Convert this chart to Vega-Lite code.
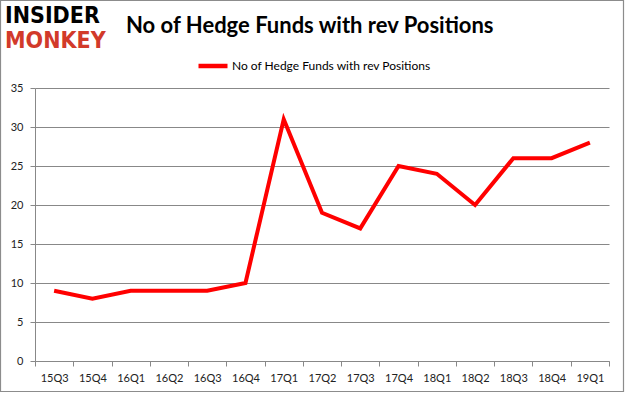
{
  "$schema": "https://vega.github.io/schema/vega-lite/v6.json",
  "width": 574,
  "height": 273,
  "autosize": {"type": "none"},
  "padding": {"left": 35, "top": 88, "right": 16, "bottom": 34},
  "background": "white",
  "title": {
    "text": "No of Hedge Funds with rev Positions",
    "font": "Lato",
    "fontSize": 22,
    "fontWeight": "bold",
    "color": "#000000",
    "anchor": "start",
    "frame": "group",
    "dx": 91,
    "offset": -55,
    "baseline": "alphabetic"
  },
  "config": {
    "view": {"stroke": null},
    "font": "Lato",
    "axis": {
      "labelFont": "Lato",
      "labelFontSize": 11,
      "labelColor": "#222222",
      "domainColor": "#888888",
      "tickColor": "#888888",
      "gridColor": "#888888",
      "titleFontSize": 0
    }
  },
  "layer": [
    {
      "data": {"values": [{}]},
      "mark": {"type": "rect", "fill": null, "stroke": "#8c8c8c", "strokeWidth": 1.2},
      "encoding": {
        "x": {"value": -34.5},
        "x2": {"value": 588.5},
        "y": {"value": -87.5},
        "y2": {"value": 303.5}
      }
    },
    {
      "data": {"values": [{}]},
      "mark": {"type": "text", "align": "left", "baseline": "top", "font": "DejaVu Sans Condensed", "fontWeight": "bold", "fontSize": 23, "fill": "#000000", "text": "INSIDER"},
      "encoding": {"x": {"value": -30}, "y": {"value": -83.5}}
    },
    {
      "data": {"values": [{}]},
      "mark": {"type": "text", "align": "left", "baseline": "top", "font": "DejaVu Sans Condensed", "fontWeight": "bold", "fontSize": 23, "fill": "#d23a2a", "text": "MONKEY"},
      "encoding": {"x": {"value": -30}, "y": {"value": -58.5}}
    },
    {
      "data": {
        "values": [
          {"quarter": "15Q3", "funds": 9, "series": "No of Hedge Funds with rev Positions"},
          {"quarter": "15Q4", "funds": 8, "series": "No of Hedge Funds with rev Positions"},
          {"quarter": "16Q1", "funds": 9, "series": "No of Hedge Funds with rev Positions"},
          {"quarter": "16Q2", "funds": 9, "series": "No of Hedge Funds with rev Positions"},
          {"quarter": "16Q3", "funds": 9, "series": "No of Hedge Funds with rev Positions"},
          {"quarter": "16Q4", "funds": 10, "series": "No of Hedge Funds with rev Positions"},
          {"quarter": "17Q1", "funds": 31, "series": "No of Hedge Funds with rev Positions"},
          {"quarter": "17Q2", "funds": 19, "series": "No of Hedge Funds with rev Positions"},
          {"quarter": "17Q3", "funds": 17, "series": "No of Hedge Funds with rev Positions"},
          {"quarter": "17Q4", "funds": 25, "series": "No of Hedge Funds with rev Positions"},
          {"quarter": "18Q1", "funds": 24, "series": "No of Hedge Funds with rev Positions"},
          {"quarter": "18Q2", "funds": 20, "series": "No of Hedge Funds with rev Positions"},
          {"quarter": "18Q3", "funds": 26, "series": "No of Hedge Funds with rev Positions"},
          {"quarter": "18Q4", "funds": 26, "series": "No of Hedge Funds with rev Positions"},
          {"quarter": "19Q1", "funds": 28, "series": "No of Hedge Funds with rev Positions"}
        ]
      },
      "mark": {"type": "line", "strokeWidth": 4, "strokeJoin": "miter"},
      "encoding": {
        "x": {
          "field": "quarter",
          "type": "ordinal",
          "sort": null,
          "bandPosition": 0.5,
          "scale": {"type": "band", "paddingInner": 0, "paddingOuter": 0},
          "axis": {"title": null, "labelAngle": 0, "tickBand": "extent", "tickSize": 5, "labelPadding": 6, "grid": false}
        },
        "y": {
          "field": "funds",
          "type": "quantitative",
          "scale": {"domain": [0, 35], "nice": false},
          "axis": {"title": null, "values": [0, 5, 10, 15, 20, 25, 30, 35], "tickSize": 5, "labelPadding": 7, "grid": true}
        },
        "color": {
          "field": "series",
          "type": "nominal",
          "scale": {"range": ["#ff0000"]},
          "legend": {
            "title": null,
            "orient": "none",
            "legendX": 161,
            "legendY": -39,
            "symbolType": "stroke",
            "symbolStrokeWidth": 4.5,
            "symbolSize": 841,
            "labelFont": "Lato",
            "labelFontSize": 12,
            "labelColor": "#000000",
            "labelOffset": 2,
            "labelLimit": 400
          }
        }
      }
    }
  ]
}
